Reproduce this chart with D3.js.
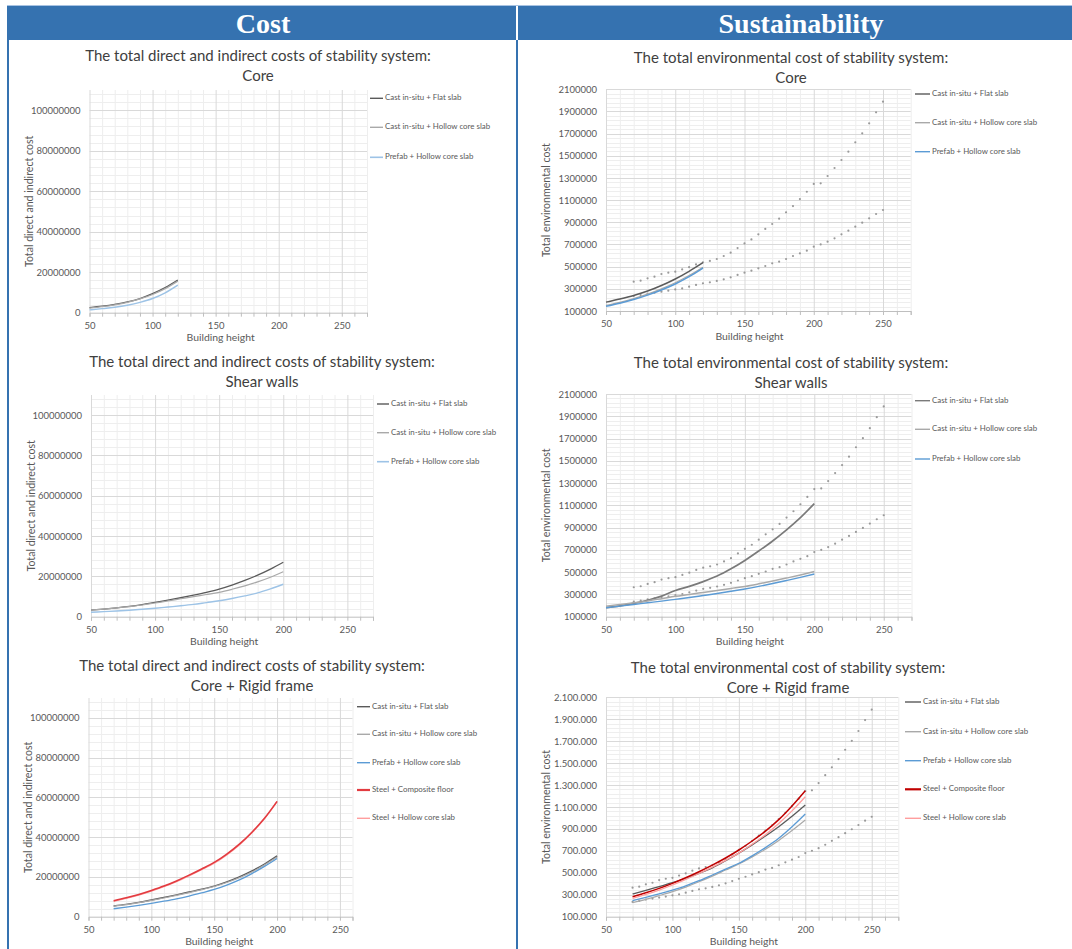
<!DOCTYPE html>
<html>
<head>
<meta charset="utf-8">
<script src="https://cdn.jsdelivr.net/npm/d3@7"></script>
<style>
  body { margin: 0; background: #fff; }
  svg { display: block; }
  .chart text { font-family: Lato, "Open Sans", "Liberation Sans", sans-serif; }
</style>
</head>
<body>
<svg id="chart" class="chart" width="1072" height="949"></svg>
<script>
// ---------- data ----------
const sectionTitles = ["Cost", "Sustainability"];
const legendNames3 = ["Cast in-situ + Flat slab", "Cast in-situ + Hollow core slab", "Prefab + Hollow core slab"];
const legendNames5 = ["Cast in-situ + Flat slab", "Cast in-situ + Hollow core slab", "Prefab + Hollow core slab",
                      "Steel + Composite floor", "Steel + Hollow core slab"];

const xTickValues = [50, 100, 150, 200, 250];
const costTickValues = [0, 20000000, 40000000, 60000000, 80000000, 100000000];
const envTickValues = [100000, 300000, 500000, 700000, 900000, 1100000, 1300000, 1500000, 1700000, 1900000, 2100000];

// building heights of each series
const heightsCore = [50, 60, 70, 80, 90, 100, 110, 120];
const heightsShear = [50, 60, 70, 80, 90, 100, 110, 120, 130, 140, 150, 160, 170, 180, 190, 200];
const heightsRigid = [70, 80, 90, 100, 110, 120, 130, 140, 150, 160, 170, 180, 190, 200];
const heightsRef = [70, 75, 80, 85, 90, 95, 100, 105, 110, 115, 120, 125, 130, 135, 140, 145, 150, 155, 160,
                    165, 170, 175, 180, 185, 190, 195, 200, 205, 210, 215, 220, 225, 230, 235, 240, 245, 250];

// total direct and indirect cost
const costCoreFlat   = [2.5e6, 3.2e6, 4.1e6, 5.3e6, 7.0e6, 9.4e6, 12.4e6, 16.1e6];
const costCoreHollow = [2.3e6, 3.0e6, 3.9e6, 5.1e6, 6.8e6, 9.0e6, 11.9e6, 15.6e6];
const costCorePrefab = [1.4e6, 2.0e6, 2.7e6, 3.7e6, 5.1e6, 7.0e6, 9.8e6, 13.6e6];

const costShearFlat   = [3.3e6, 3.8e6, 4.4e6, 5.1e6, 6.0e6, 7.1e6, 8.2e6, 9.4e6, 10.7e6, 12.1e6, 13.7e6, 15.7e6, 18.0e6, 20.6e6, 23.6e6, 27.0e6];
const costShearHollow = [3.3e6, 3.8e6, 4.4e6, 5.0e6, 5.8e6, 6.8e6, 7.8e6, 8.9e6, 10.0e6, 11.0e6, 12.1e6, 13.6e6, 15.3e6, 17.3e6, 19.6e6, 22.3e6];
const costShearPrefab = [2.2e6, 2.5e6, 2.8e6, 3.2e6, 3.7e6, 4.2e6, 4.8e6, 5.4e6, 6.1e6, 7.0e6, 7.9e6, 9.0e6, 10.3e6, 11.8e6, 13.8e6, 16.1e6];

const costRigidFlat        = [5.4e6, 6.2e6, 7.2e6, 8.4e6, 9.7e6, 11.0e6, 12.4e6, 13.8e6, 15.4e6, 17.5e6, 20.0e6, 23.0e6, 26.5e6, 30.6e6];
const costRigidHollow      = [5.3e6, 6.1e6, 7.1e6, 8.2e6, 9.4e6, 10.7e6, 12.1e6, 13.6e6, 15.2e6, 17.2e6, 19.6e6, 22.5e6, 26.0e6, 30.0e6];
const costRigidPrefab      = [4.0e6, 4.8e6, 5.7e6, 6.7e6, 7.8e6, 9.0e6, 10.4e6, 12.0e6, 13.7e6, 15.9e6, 18.5e6, 21.7e6, 25.3e6, 29.3e6];
const costRigidComposite   = [8.0e6, 9.5e6, 11.2e6, 13.2e6, 15.4e6, 18.0e6, 20.9e6, 24.0e6, 27.3e6, 31.5e6, 36.5e6, 42.5e6, 49.5e6, 58.0e6];
const costRigidSteelHollow = [7.7e6, 9.2e6, 10.9e6, 12.9e6, 15.1e6, 17.6e6, 20.5e6, 23.6e6, 26.9e6, 31.1e6, 36.1e6, 42.2e6, 49.3e6, 57.9e6];

// total environmental cost
const envCoreFlat   = [180000, 208000, 240000, 280000, 330000, 389000, 458000, 536000];
const envCoreHollow = [150000, 178000, 212000, 252000, 300000, 355000, 420000, 495000];
const envCorePrefab = [142000, 170000, 203000, 243000, 290000, 344000, 410000, 488000];

const envShearFlat   = [181000, 198000, 220000, 248000, 285000, 335000, 372000, 415000, 465000, 530000, 605000, 690000, 780000, 880000, 990000, 1115000];
const envShearHollow = [195000, 210000, 225000, 242000, 262000, 283000, 300000, 318000, 336000, 354000, 372000, 395000, 420000, 447000, 475000, 505000];
const envShearPrefab = [180000, 195000, 210000, 225000, 240000, 256000, 272000, 290000, 308000, 328000, 349000, 372000, 398000, 425000, 453000, 483000];

const envRigidFlat        = [307000, 340000, 375000, 410000, 450000, 495000, 545000, 610000, 680000, 755000, 835000, 920000, 1015000, 1118000];
const envRigidHollow      = [228000, 258000, 292000, 328000, 370000, 418000, 470000, 525000, 580000, 645000, 715000, 795000, 885000, 981000];
const envRigidPrefab      = [246000, 276000, 308000, 343000, 382000, 428000, 480000, 533000, 587000, 655000, 730000, 815000, 920000, 1036000];
const envRigidComposite   = [282000, 318000, 358000, 404000, 455000, 510000, 570000, 635000, 708000, 790000, 880000, 985000, 1110000, 1249000];
const envRigidSteelHollow = [268000, 303000, 343000, 389000, 440000, 494000, 552000, 614000, 680000, 760000, 848000, 950000, 1065000, 1194000];

// dotted reference bands on the environmental charts
const envRefUpper = [364600, 373600, 394700, 409700, 433800, 445800, 454800, 475000, 495000, 520000, 540000, 552000,
                     569000, 596000, 626000, 668000, 710000, 746000, 792000, 840000, 885000, 933000, 990000, 1047000,
                     1110000, 1176000, 1246000, 1252000, 1318000, 1390000, 1462000, 1537000, 1622000, 1703000,
                     1793000, 1892000, 1988000];
const envRefLower = [235000, 244000, 256000, 265000, 274000, 283000, 295000, 304000, 319000, 335000, 350000, 359000,
                     371000, 386000, 404000, 425000, 446000, 464000, 485000, 506000, 530000, 545000, 569000, 596000,
                     620000, 644000, 680000, 701000, 725000, 756000, 792000, 825000, 861000, 897000, 936000, 975000,
                     1011000];

// ---------- styles ----------
const C = {
  header: "#3572b0",
  grid: "#d9d9d9",
  minor: "#eeeeee",
  axis: "#bfbfbf",
  text: "#595959",
  title: "#404040",
  dark: "#5a5a5a",
  grey: "#a9a9a9",
  blueLight: "#9dc3e6",
  blue: "#5b9bd5",
  red: "#e23b40",
  redDark: "#c00000",
  pink: "#ff9e9e",
  ref: "#9a9a9a"
};

const svg = d3.select("#chart");

// ---------- section headers and frame ----------
svg.append("rect").attr("x", 7).attr("y", 6).attr("width", 509).attr("height", 34).attr("fill", C.header);
svg.append("rect").attr("x", 518).attr("y", 6).attr("width", 554).attr("height", 34).attr("fill", C.header);
svg.append("line").attr("x1", 7).attr("x2", 1072).attr("y1", 5.5).attr("y2", 5.5).attr("stroke", "#a8c3e2");
svg.append("rect").attr("x", 7).attr("y", 40).attr("width", 2).attr("height", 909).attr("fill", C.header);
svg.append("rect").attr("x", 516).attr("y", 40).attr("width", 2).attr("height", 909).attr("fill", C.header);

svg.selectAll("text.section")
  .data(sectionTitles)
  .join("text")
  .attr("class", "section")
  .attr("x", (d, i) => i === 0 ? 263 : 801)
  .attr("y", 33)
  .attr("text-anchor", "middle")
  .attr("fill", "#fff")
  .style("font-family", "'Liberation Serif', 'DejaVu Serif', serif")
  .style("font-weight", "bold")
  .style("font-size", "28px")
  .text(d => d);

// ---------- panel renderer ----------
const fmtPlain = d3.format("d");
const fmtDots = d3.formatLocale({ decimal: ",", thousands: ".", grouping: [3], currency: ["", ""] }).format(",d");

function drawPanel(p) {
  const g = svg.append("g");
  const x = d3.scaleLinear().domain([50, p.xMax]).range([p.x0, p.x1]);
  const y = d3.scaleLinear().domain([p.yMin, p.yMax]).range([p.y0, p.y1]);

  // minor grid
  const minorX = d3.range(60, p.xMax + 1, 10).filter(v => v % 50 !== 0);
  g.selectAll(".mx").data(minorX).join("line")
    .attr("x1", d => x(d) + 0.5).attr("x2", d => x(d) + 0.5)
    .attr("y1", p.y0).attr("y2", p.y1)
    .attr("stroke", C.minor).attr("stroke-width", 1);
  const minorY = d3.range(p.yMin + p.minorStep, p.yMax + 1, p.minorStep).filter(v => !p.yTicks.includes(v));
  g.selectAll(".my").data(minorY).join("line")
    .attr("x1", p.x0).attr("x2", p.x1)
    .attr("y1", d => Math.round(y(d)) + 0.5).attr("y2", d => Math.round(y(d)) + 0.5)
    .attr("stroke", C.minor).attr("stroke-width", 1);

  // major grid
  g.selectAll(".gx").data(xTickValues).join("line")
    .attr("x1", d => x(d) + 0.5).attr("x2", d => x(d) + 0.5)
    .attr("y1", p.y0).attr("y2", p.y1)
    .attr("stroke", C.grid).attr("stroke-width", 1);
  g.selectAll(".gy").data(p.yTicks.slice(1)).join("line")
    .attr("x1", p.x0).attr("x2", p.x1)
    .attr("y1", d => Math.round(y(d)) + 0.5).attr("y2", d => Math.round(y(d)) + 0.5)
    .attr("stroke", C.grid).attr("stroke-width", 1.2);

  // x axis with minor tick marks
  const xAxis = d3.axisBottom(x)
    .tickValues(d3.range(50, p.xMax + 1, 10))
    .tickSize(4)
    .tickFormat(d => xTickValues.includes(d) ? d : "");
  const ax = g.append("g").attr("transform", `translate(0,${p.y0})`).call(xAxis);
  ax.select(".domain").attr("stroke", C.axis);
  ax.selectAll(".tick line").attr("stroke", C.axis);
  ax.selectAll(".tick text").attr("fill", C.text).attr("dy", null).attr("y", 14)
    .attr("dominant-baseline", "middle").style("font-size", "9.5px");

  // y axis labels
  const yAxis = d3.axisLeft(y).tickValues(p.yTicks).tickSize(0).tickPadding(9).tickFormat(p.fmt);
  const ay = g.append("g").attr("transform", `translate(${p.x0},0)`).call(yAxis);
  ay.select(".domain").remove();
  ay.selectAll(".tick text").attr("fill", C.text).style("font-size", "9.5px");

  // axis titles
  g.append("text").attr("x", (p.x0 + x(250)) / 2 + 5).attr("y", p.y0 + 26)
    .attr("text-anchor", "middle").attr("dominant-baseline", "middle")
    .attr("fill", C.text).style("font-size", "10.4px").text("Building height");
  g.append("text")
    .attr("transform", `translate(${p.x0 - 59},${(p.y0 + p.y1) / 2}) rotate(-90)`)
    .attr("text-anchor", "middle").attr("dominant-baseline", "middle")
    .attr("fill", C.text).style("font-size", "10.6px").text(p.yTitle);

  // chart title
  p.title.forEach((t, i) => {
    g.append("text").attr("x", p.titleX).attr("y", p.titleY + 2 + i * 20)
      .attr("text-anchor", "middle").attr("dominant-baseline", "middle")
      .attr("fill", C.title).style("font-size", "15px").text(t);
  });

  // dotted reference bands
  if (p.refs) {
    p.refs.forEach(ref => {
      g.selectAll(null).data(ref).join("circle")
        .attr("cx", (d, i) => x(heightsRef[i])).attr("cy", d => y(d))
        .attr("r", 1.1).attr("fill", C.ref);
    });
  }

  // series lines
  const line = d3.line().curve(d3.curveMonotoneX);
  p.series.forEach(s => {
    g.append("path")
      .attr("d", line(s.values.map((v, i) => [x(s.heights[i]), y(v)])))
      .attr("fill", "none").attr("stroke", s.color).attr("stroke-width", s.width);
  });

  // legend
  p.series.forEach((s, i) => {
    const ly = s.legendY !== undefined ? s.legendY : p.legendY[i];
    g.append("line").attr("x1", p.legendX).attr("x2", p.legendX + p.legendLen)
      .attr("y1", ly).attr("y2", ly).attr("stroke", s.color).attr("stroke-width", s.legendWidth || 1.4);
    g.append("text").attr("x", p.legendX + p.legendLen + 2).attr("y", ly)
      .attr("dominant-baseline", "middle").attr("fill", C.text)
      .style("font-size", "7.9px").text(s.name);
  });
}

// ---------- panels ----------
const costTitle = "The total direct and indirect costs of stability system:";
const envTitle = "The total environmental cost of stability system:";

drawPanel({
  x0: 89.5, x1: 367, xMax: 270, y0: 312.7, y1: 90, yMin: 0, yMax: 110000000, minorStep: 4000000,
  yTicks: costTickValues, fmt: fmtPlain, yTitle: "Total direct and indirect cost",
  title: [costTitle, "Core"], titleX: 258, titleY: 55,
  legendX: 370, legendLen: 13, legendY: [98.3, 127.3, 157.3],
  series: [
    { name: legendNames3[0], heights: heightsCore, values: costCoreFlat, color: C.dark, width: 1.3 },
    { name: legendNames3[1], heights: heightsCore, values: costCoreHollow, color: C.grey, width: 1.2 },
    { name: legendNames3[2], heights: heightsCore, values: costCorePrefab, color: C.blueLight, width: 1.4, legendWidth: 1.6 }
  ]
});

drawPanel({
  x0: 91, x1: 373, xMax: 270, y0: 616.7, y1: 395, yMin: 0, yMax: 110000000, minorStep: 4000000,
  yTicks: costTickValues, fmt: fmtPlain, yTitle: "Total direct and indirect cost",
  title: [costTitle, "Shear walls"], titleX: 262, titleY: 361,
  legendX: 377, legendLen: 12, legendY: [404, 432.7, 461.7],
  series: [
    { name: legendNames3[0], heights: heightsShear, values: costShearFlat, color: C.dark, width: 1.3 },
    { name: legendNames3[1], heights: heightsShear, values: costShearHollow, color: C.grey, width: 1.2 },
    { name: legendNames3[2], heights: heightsShear, values: costShearPrefab, color: C.blueLight, width: 1.4, legendWidth: 1.6 }
  ]
});

// steel + hollow core is drawn beneath steel + composite, legend keeps the listed order
drawPanel({
  x0: 88.5, x1: 352.5, xMax: 260, y0: 916.7, y1: 698, yMin: 0, yMax: 110000000, minorStep: 4000000,
  yTicks: costTickValues, fmt: fmtPlain, yTitle: "Total direct and indirect cost",
  title: [costTitle, "Core + Rigid frame"], titleX: 252, titleY: 665,
  legendX: 357, legendLen: 13, legendY: [706.7, 734.3, 762.7, 790, 818.3],
  series: [
    { name: legendNames5[0], heights: heightsRigid, values: costRigidFlat, color: C.dark, width: 1.4 },
    { name: legendNames5[1], heights: heightsRigid, values: costRigidHollow, color: C.grey, width: 1.2 },
    { name: legendNames5[2], heights: heightsRigid, values: costRigidPrefab, color: C.blue, width: 1.3 },
    { name: legendNames5[4], heights: heightsRigid, values: costRigidSteelHollow, color: C.pink, width: 1.3, legendY: 818.3 },
    { name: legendNames5[3], heights: heightsRigid, values: costRigidComposite, color: C.red, width: 1.6, legendWidth: 2.2, legendY: 790 }
  ]
});

drawPanel({
  x0: 606, x1: 910.7, xMax: 270, y0: 311, y1: 89.3, yMin: 100000, yMax: 2100000, minorStep: 40000,
  yTicks: envTickValues, fmt: fmtPlain, yTitle: "Total environmental cost",
  title: [envTitle, "Core"], titleX: 791, titleY: 57,
  legendX: 915, legendLen: 15, legendY: [94, 122.7, 151.7],
  refs: [envRefUpper, envRefLower],
  series: [
    { name: legendNames3[0], heights: heightsCore, values: envCoreFlat, color: C.dark, width: 1.5 },
    { name: legendNames3[1], heights: heightsCore, values: envCoreHollow, color: C.grey, width: 1.2 },
    { name: legendNames3[2], heights: heightsCore, values: envCorePrefab, color: C.blue, width: 1.5 }
  ]
});

drawPanel({
  x0: 606, x1: 911.5, xMax: 270, y0: 616.7, y1: 394, yMin: 100000, yMax: 2100000, minorStep: 40000,
  yTicks: envTickValues, fmt: fmtPlain, yTitle: "Total environmental cost",
  title: [envTitle, "Shear walls"], titleX: 791, titleY: 362,
  legendX: 915, legendLen: 15, legendY: [400.7, 429.3, 459],
  refs: [envRefUpper, envRefLower],
  series: [
    { name: legendNames3[0], heights: heightsShear, values: envShearFlat, color: "#7a7a7a", width: 1.7 },
    { name: legendNames3[1], heights: heightsShear, values: envShearHollow, color: C.grey, width: 1.5 },
    { name: legendNames3[2], heights: heightsShear, values: envShearPrefab, color: C.blue, width: 1.4 }
  ]
});

drawPanel({
  x0: 606, x1: 898.3, xMax: 270, y0: 916.7, y1: 697.3, yMin: 100000, yMax: 2100000, minorStep: 40000,
  yTicks: envTickValues, fmt: fmtDots, yTitle: "Total environmental cost",
  title: [envTitle, "Core + Rigid frame"], titleX: 788, titleY: 667,
  legendX: 905, legendLen: 16, legendY: [702, 731.7, 760.7, 789.3, 818.3],
  refs: [envRefUpper, envRefLower],
  series: [
    { name: legendNames5[0], heights: heightsRigid, values: envRigidFlat, color: C.dark, width: 1.3 },
    { name: legendNames5[1], heights: heightsRigid, values: envRigidHollow, color: C.grey, width: 1.2 },
    { name: legendNames5[2], heights: heightsRigid, values: envRigidPrefab, color: C.blue, width: 1.3 },
    { name: legendNames5[3], heights: heightsRigid, values: envRigidComposite, color: C.redDark, width: 1.5, legendWidth: 2.2 },
    { name: legendNames5[4], heights: heightsRigid, values: envRigidSteelHollow, color: C.pink, width: 1.3 }
  ]
});
</script>
</body>
</html>
